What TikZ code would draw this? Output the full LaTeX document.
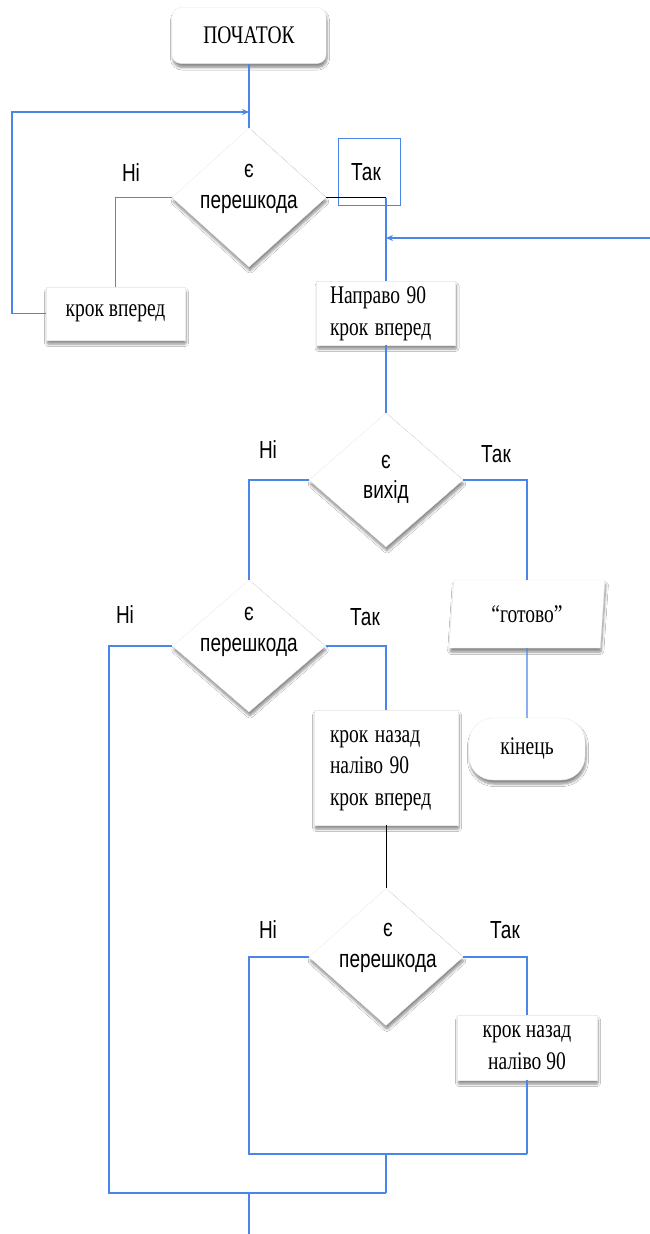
\documentclass[tikz,border=0pt]{standalone}
\usepackage{fontspec}
\setmainfont{Liberation Serif}
\newfontfamily\lsans{Liberation Sans}
\usetikzlibrary{shapes.geometric,shadows,shadows.blur,arrows.meta}
\definecolor{lblue}{RGB}{74,134,232}
\newcommand\vs[1]{\scalebox{1}[1.3]{#1}}
\newcommand\lines[2]{\vs{\begin{tabular}{@{}#1@{}}#2\end{tabular}}}
\begin{document}
\begin{tikzpicture}[x=1pt,y=-1pt,
  shd/.style={blur shadow={shadow blur steps=6,shadow blur extra rounding=1pt,shadow xshift=1pt,shadow yshift=-4pt,shadow opacity=45,shadow blur radius=2.5pt}},
  boxbase/.style={fill=white,draw=black!8,line width=0.4pt,shd,inner sep=0pt,
    font=\fontsize{19.5}{24.5}\selectfont},
  rbox/.style={boxbase,rectangle},
  startbox/.style={boxbase,rectangle,rounded corners=9pt},
  endbox/.style={boxbase,rectangle,rounded corners=24pt},
  dia/.style={boxbase,diamond,aspect=1},
  par/.style={boxbase,trapezium,trapezium stretches=true,trapezium left angle=82.5,trapezium right angle=97.5},
  dtext/.style={font=\lsans\fontsize{19}{23.5}\selectfont,inner sep=0pt},
  lab/.style={font=\lsans\fontsize{19}{23}\selectfont,inner sep=0pt},
  bl/.style={draw=lblue,line width=1.2pt},
  blk/.style={draw=black,line width=1pt},
  arr/.style={-{Stealth[length=7pt,width=6pt]}}
]
\useasboundingbox (0,0) rectangle (650,1234);
\fill[white] (0,0) rectangle (650,1234);

% nodes
\node[startbox,minimum width=154pt,minimum height=56pt] (start) at (249,35.5) {\vs{ПОЧАТОК}};
\node[dia,minimum width=154pt,minimum height=139pt] (d1) at (249,197.5) {};
\node[dtext] (d1t) at (249,187) {\lines{c}{є\\перешкода}};
\node[rbox,minimum width=139pt,minimum height=53pt] (b1) at (115.5,313.5) {\vs{крок вперед}};
\node[rbox,minimum width=139pt,minimum height=64pt,text width=112pt,align=left] (b2) at (386,313) {\lines{l}{Направо 90\\крок вперед}};
\node[dia,minimum width=154pt,minimum height=134pt] (d2) at (386,480) {};
\node[dtext] (d2t) at (386,477.5) {\lines{c}{є\\вихід}};
\node[dia,minimum width=153pt,minimum height=132pt] (d3) at (249,646) {};
\node[dtext] (d3t) at (249,630) {\lines{c}{є\\перешкода}};
\node[par,minimum width=156pt,minimum height=68pt] (pr) at (527,614) {\vs{“готово”}};
\node[endbox,minimum width=116pt,minimum height=62pt] (end) at (527,749) {\vs{кінець}};
\node[rbox,minimum width=144pt,minimum height=115pt,text width=112pt,align=left] (b3) at (386,767.5) {\lines{l}{крок назад\\наліво 90\\крок вперед}};
\node[dia,minimum width=154pt,minimum height=137pt] (d4) at (386,957) {};
\node[dtext] (d4t) at (388,946) {\lines{c}{є\\перешкода}};
\node[rbox,minimum width=140pt,minimum height=65pt] (b4) at (527,1047.5) {\lines{c}{крок назад\\наліво 90}};

% labels
\node[lab] (n1) at (131,173) {\vs{Ні}};
\node[lab] (t1) at (366,172) {\vs{Так}};
\node[draw=lblue,line width=1pt,minimum width=62pt,minimum height=67pt,inner sep=0pt] (tbox) at (369,171.5) {};
\node[lab] (n2) at (268,450) {\vs{Ні}};
\node[lab] (t2) at (496,454) {\vs{Так}};
\node[lab] (n3) at (125,615) {\vs{Ні}};
\node[lab] (t3) at (365,617) {\vs{Так}};
\node[lab] (n4) at (268,930) {\vs{Ні}};
\node[lab] (t4) at (505,930) {\vs{Так}};

% coordinates
\coordinate (ja) at (249,112);
\coordinate (lx) at (12,112);
\coordinate (c1) at (d1.east -| b2.north);
\coordinate (rin) at (650,238);
\coordinate (rj) at (rin -| b2.north);
\coordinate (lc) at (109,1193);
\coordinate (j2) at (386,1154);
\coordinate (j3) at (386,1193);
\coordinate (j4) at (249,1154);
\coordinate (j5) at (527,1154);
\coordinate (j6) at (249,1193);
\coordinate (ex) at (249,1234);

% connectors
\draw[bl] (start.south) -- (d1.north);
\draw[bl,arr] (b1.west) -| (lx) -- (ja);
\draw[bl] (d1.west) -| (b1.north);
\draw[blk] (d1.east) -- (c1);
\draw[bl] (c1) -- (b2.north);
\draw[bl,arr] (rin) -- (rj);
\draw[bl] (b2.south) -- (d2.north);
\draw[bl] (d2.west) -| (d3.north);
\draw[bl] (d2.east) -| (pr.north);
\draw[bl] (pr.south) -- (end.north);
\draw[bl] (d3.east) -| (b3.north);
\draw[bl] (d3.west) -| (lc) -- (j3);
\draw[blk] (b3.south) -- (d4.north);
\draw[bl] (d4.west) -| (j4) -- (j5);
\draw[bl] (d4.east) -| (b4.north);
\draw[bl] (b4.south) -- (j5);
\draw[bl] (j2) -- (j3);
\draw[bl] (j6) -- (ex);
\end{tikzpicture}
\end{document}
